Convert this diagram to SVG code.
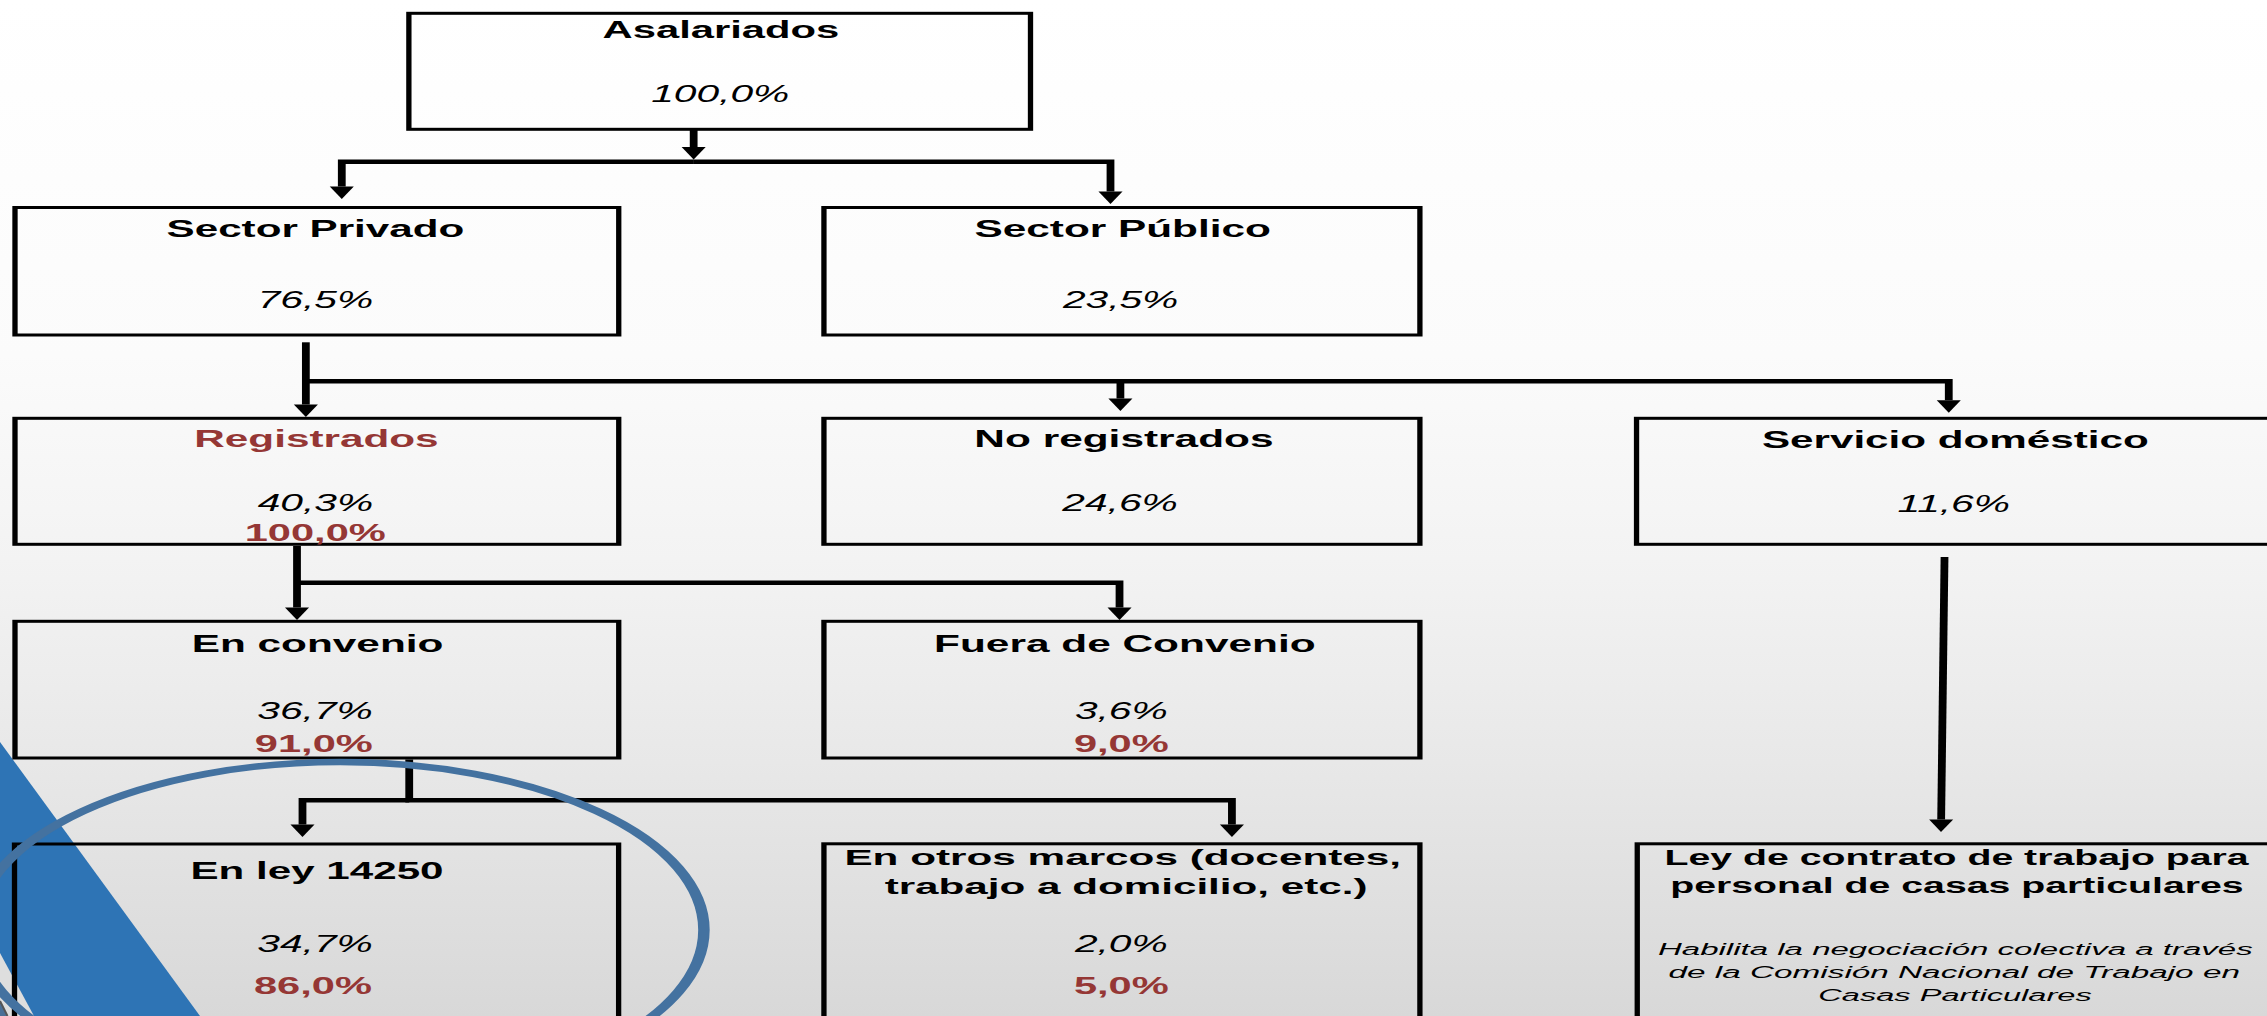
<svg xmlns="http://www.w3.org/2000/svg" width="2267" height="1016" viewBox="0 0 2267 1016">
<defs>
<linearGradient id="bg" x1="0" y1="0" x2="0" y2="1">
<stop offset="0" stop-color="#ffffff"/>
<stop offset="0.35" stop-color="#fbfbfb"/>
<stop offset="0.55" stop-color="#f3f3f3"/>
<stop offset="0.75" stop-color="#e8e8e8"/>
<stop offset="1" stop-color="#d8d8d8"/>
</linearGradient>
<marker id="ah" markerUnits="userSpaceOnUse" orient="auto" refX="0" refY="0" markerWidth="14" markerHeight="14" overflow="visible">
<path d="M0,-6.8 L12.5,0 L0,6.8 Z" fill="#000"/>
</marker>
</defs>
<style>
.box{fill:none;stroke:#000;stroke-width:3}
.c{fill:none;stroke:#000;stroke-width:4.4;stroke-linejoin:miter}
.a{marker-end:url(#ah)}
text{font-family:"Liberation Sans",Arial,sans-serif;text-anchor:middle;fill:#000}
.t{font-weight:bold;font-size:24px}
.t2{font-weight:bold;font-size:21.5px}
.p{font-style:italic;font-size:23px}
.r{font-weight:bold;font-size:23.5px;fill:#953735}
.rt{fill:#953735}
.s{font-style:italic;font-size:17px}
</style>
<rect width="2267" height="1016" fill="url(#bg)"/>
<polygon points="0,742 200,1016 0,1016" fill="#2E74B5"/>
<polygon points="0,953 34,1016 7,1016 0,1001" fill="#dedede"/>
<polygon points="0,1002 7,1016 0,1016" fill="#4a6f96"/>
<line x1="0" y1="1001" x2="7.5" y2="1016" stroke="#555" stroke-width="2"/>
<g transform="scale(1.77,1)">
<g id="nodes">
<g id="asalariados">
<rect class="box" x="231.0" y="13.3" width="351.2" height="116"/>
<text class="t" x="407.3" y="38.5" textLength="133.7" lengthAdjust="spacingAndGlyphs">Asalariados</text>
<text class="p" x="406.9" y="101.7">100,0%</text>
</g>
<g id="sector-privado">
<rect class="box" x="8.47" y="207.5" width="341.1" height="127.5"/>
<text class="t" x="178.2" y="237.5" textLength="168.2" lengthAdjust="spacingAndGlyphs">Sector Privado</text>
<text class="p" x="178.2" y="307.9">76,5%</text>
</g>
<g id="sector-publico">
<rect class="box" x="465.5" y="207.5" width="336.7" height="127.5"/>
<text class="t" x="634.3" y="237.5" textLength="167.5" lengthAdjust="spacingAndGlyphs">Sector Público</text>
<text class="p" x="633.1" y="307.9">23,5%</text>
</g>
<g id="registrados">
<rect class="box" x="8.47" y="418.3" width="341.1" height="126"/>
<text class="t rt" x="178.8" y="447" textLength="138" lengthAdjust="spacingAndGlyphs">Registrados</text>
<text class="p" x="178.2" y="511.4">40,3%</text>
<text class="r" x="178.1" y="541">100,0%</text>
</g>
<g id="no-registrados">
<rect class="box" x="465.5" y="418.3" width="336.7" height="126"/>
<text class="t" x="635" y="447" textLength="169" lengthAdjust="spacingAndGlyphs">No registrados</text>
<text class="p" x="632.8" y="511.4">24,6%</text>
</g>
<g id="servicio-domestico">
<rect class="box" x="924.6" y="418.3" width="358.4" height="126"/>
<text class="t" x="1104.7" y="448" textLength="218.5" lengthAdjust="spacingAndGlyphs">Servicio doméstico</text>
<text class="p" x="1103.8" y="511.7">11,6%</text>
</g>
<g id="en-convenio">
<rect class="box" x="8.47" y="621.3" width="341.1" height="136.7"/>
<text class="t" x="179.4" y="652.3" textLength="142.2" lengthAdjust="spacingAndGlyphs">En convenio</text>
<text class="p" x="178" y="719.3">36,7%</text>
<text class="r" x="177.3" y="752.3">91,0%</text>
</g>
<g id="fuera-de-convenio">
<rect class="box" x="465.5" y="621.3" width="336.7" height="136.7"/>
<text class="t" x="635.5" y="652.3" textLength="215.6" lengthAdjust="spacingAndGlyphs">Fuera de Convenio</text>
<text class="p" x="633.5" y="719.3">3,6%</text>
<text class="r" x="633.5" y="752.3">9,0%</text>
</g>
<g id="en-ley-14250">
<rect class="box" x="8.2" y="844" width="341.3" height="190"/>
<text class="t" x="179.1" y="879.5" textLength="143" lengthAdjust="spacingAndGlyphs">En ley 14250</text>
<text class="p" x="178" y="952.2">34,7%</text>
<text class="r" x="176.8" y="994.5">86,0%</text>
</g>
<g id="en-otros-marcos">
<rect class="box" x="465.5" y="843.8" width="336.7" height="190"/>
<text class="t2" x="634.3" y="865" textLength="314.5" lengthAdjust="spacingAndGlyphs">En otros marcos (docentes,</text>
<text class="t2" x="636.2" y="894" textLength="272.8" lengthAdjust="spacingAndGlyphs">trabajo a domicilio, etc.)</text>
<text class="p" x="633.5" y="952.2">2,0%</text>
<text class="r" x="633.5" y="994.5">5,0%</text>
</g>
<g id="ley-casas-particulares">
<rect class="box" x="925" y="843.8" width="358" height="190"/>
<text class="t2" x="1105.4" y="865" textLength="330" lengthAdjust="spacingAndGlyphs">Ley de contrato de trabajo para</text>
<text class="t2" x="1105.6" y="893.3" textLength="324" lengthAdjust="spacingAndGlyphs">personal de casas particulares</text>
<text class="s" x="1104.7" y="955" textLength="336" lengthAdjust="spacingAndGlyphs">Habilita la negociación colectiva a través</text>
<text class="s" x="1104.1" y="978.3" textLength="322.8" lengthAdjust="spacingAndGlyphs">de la Comisión Nacional de Trabajo en</text>
<text class="s" x="1104.5" y="1000.7" textLength="154.5" lengthAdjust="spacingAndGlyphs">Casas Particulares</text>
</g>
</g>
<g id="connectors">
<path class="c a" d="M391.9,130 V147"/>
<path class="c a" d="M392,161.7 H193.1 V186.5"/>
<path class="c a" d="M391.8,161.7 H627.4 V191.5"/>
<path class="c a" d="M172.8,342.3 V404.5"/>
<path class="c a" d="M172.8,381.2 H1101 V400.2"/>
<path class="c a" d="M633,381.2 V398.5"/>
<path class="c a" d="M167.8,546 V607.5"/>
<path class="c a" d="M167.8,582.7 H632.5 V607.5"/>
<path class="c a" d="M231.2,800.3 H170.9 V824.5"/>
<path class="c a" d="M231.2,759.5 V800.3 H696 V824.5"/>
<path class="c a" d="M1098.6,557 L1096.7,819.5"/>
</g>
<ellipse cx="192.1" cy="930" rx="205.6" ry="168" fill="none" stroke="#4472A0" stroke-width="6.5"/>
</g>
</svg>
